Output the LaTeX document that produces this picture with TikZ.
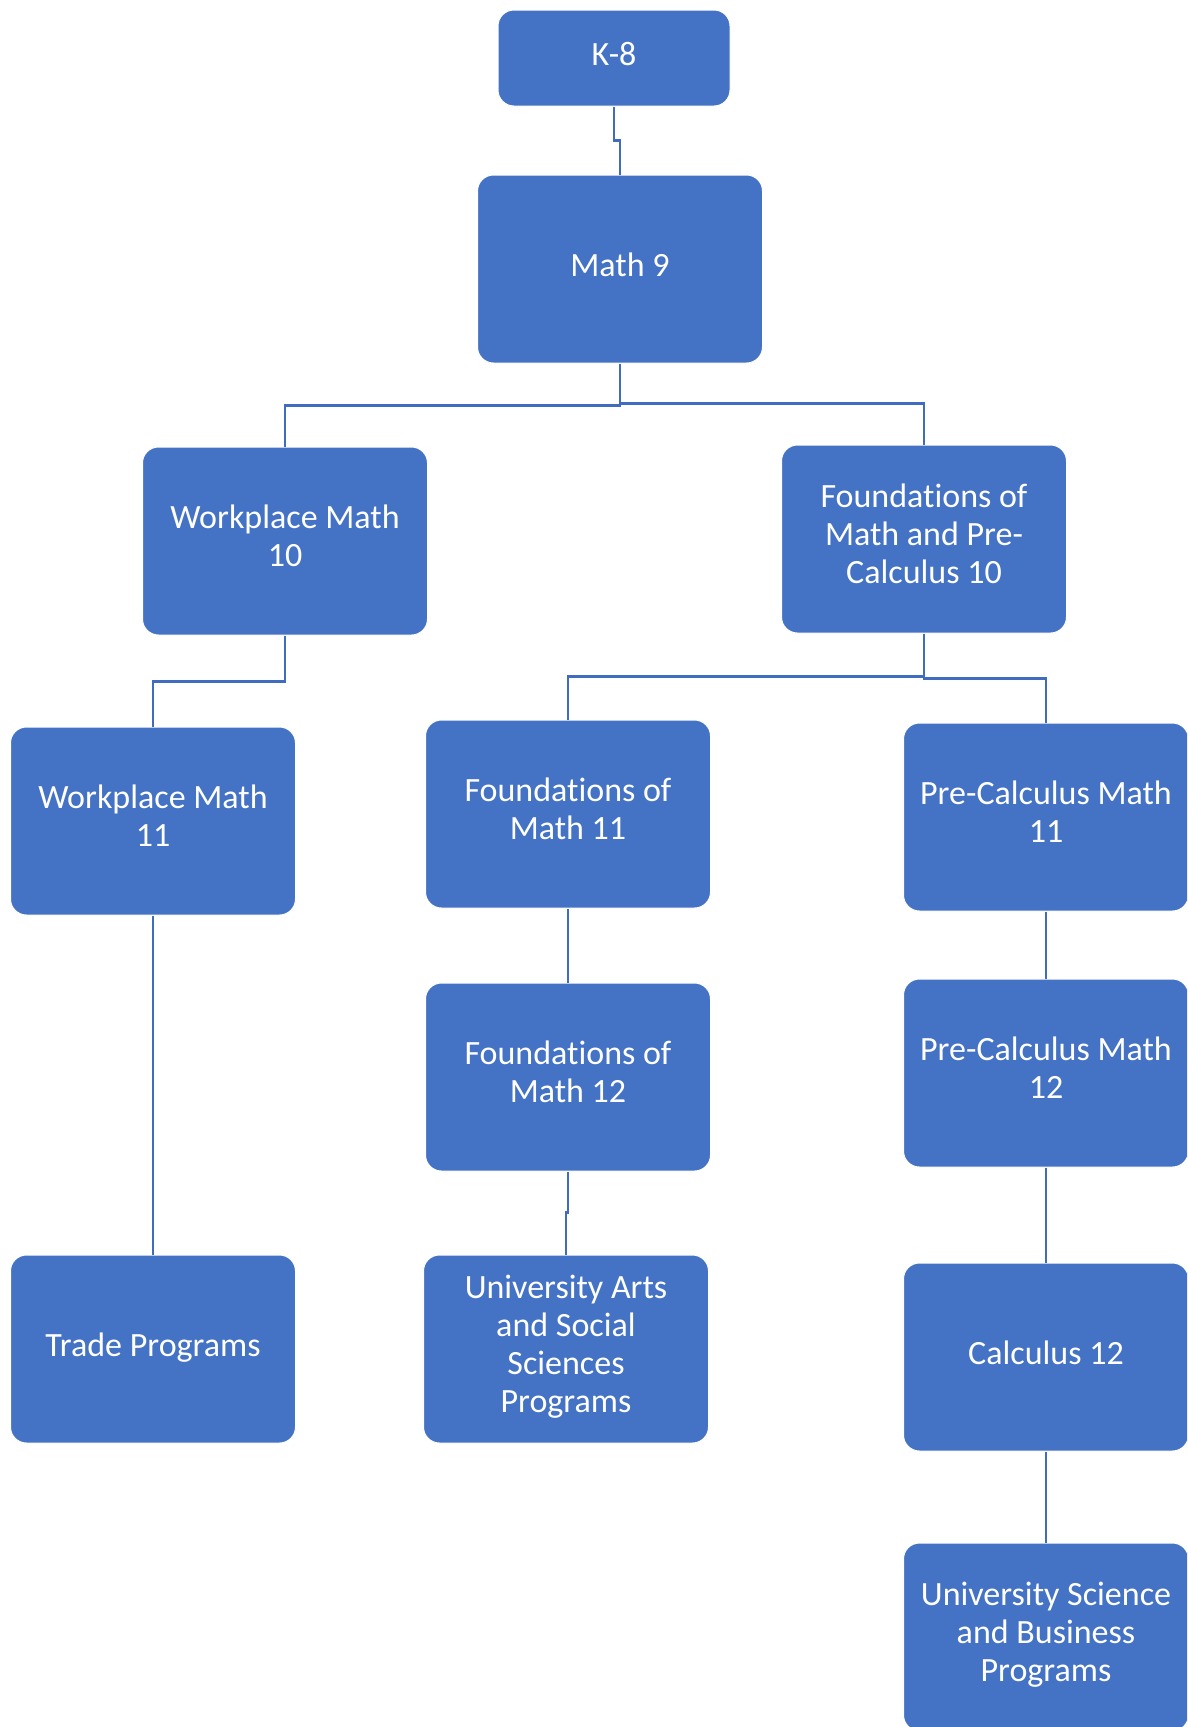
\documentclass[tikz,border=0pt]{standalone}
\usepackage{fontspec}
\setmainfont{Carlito}[Ligatures=NoCommon]
\definecolor{boxblue}{HTML}{4472C4}
\definecolor{linkblue}{HTML}{3F6CBE}
\tikzset{
  course/.style={draw=white, line width=1pt, fill=boxblue, rounded corners=16pt,
    minimum width=285pt, minimum height=188pt, inner sep=0pt,
    text=white, align=center, font=\fontsize{34}{38}\selectfont,
    execute at begin node={\rule{0pt}{26pt}},
    execute at end node={\rule[-11pt]{0pt}{0pt}}},
  link/.style={draw=linkblue, line width=2.5pt}
}
\begin{document}
\begin{tikzpicture}[x=1pt,y=-1pt]
\useasboundingbox (0,0) rectangle (1187,1727);
\clip (0,0) rectangle (1187,1727);
% top
\node[course, minimum width=232pt, minimum height=96pt] (k8) at (614,58) {K-8};
\node[course] (m9) at (620,269) {Math 9};
% grade 10
\node[course] (wm10) at (285,541) {Workplace Math\\10};
\node[course] (fp10) at (924,539) {Foundations of\\Math and Pre-\\Calculus 10};
% grade 11
\node[course] (wm11) at (153,821) {Workplace Math\\11};
\node[course] (fm11) at (568,814) {Foundations of\\Math 11};
\node[course] (pc11) at (1046,817) {Pre-Calculus Math\\11};
% grade 12
\node[course] (fm12) at (568,1077) {Foundations of\\Math 12};
\node[course] (pc12) at (1046,1073) {Pre-Calculus Math\\12};
\node[course] (calc12) at (1046,1357) {Calculus 12};
% programs
\node[course] (trade) at (153,1349) {Trade Programs};
\node[course] (uas) at (566,1349) {University Arts\\and Social\\Sciences\\Programs};
\node[course] (usb) at (1046,1637) {University Science\\and Business\\Programs};
% connectors
\draw[link] (k8.south) -- ++(0,34) -| (m9.north);
\draw[link] (m9.south) -- ++(0,42) -| (wm10.north);
\draw[link] (m9.south) -- ++(0,40) -| (fp10.north);
\draw[link] (wm10.south) -- ++(0,46) -| (wm11.north);
\draw[link] (fp10.south) -- ++(0,43) -| (fm11.north);
\draw[link] (fp10.south) -- ++(0,45) -| (pc11.north);
\draw[link] (fm12.south) -- ++(0,41) -| (uas.north);
\foreach \a/\b in {wm11/trade, fm11/fm12, pc11/pc12, pc12/calc12, calc12/usb}
  \draw[link] (\a.south) -- (\b.north);
\end{tikzpicture}
\end{document}
